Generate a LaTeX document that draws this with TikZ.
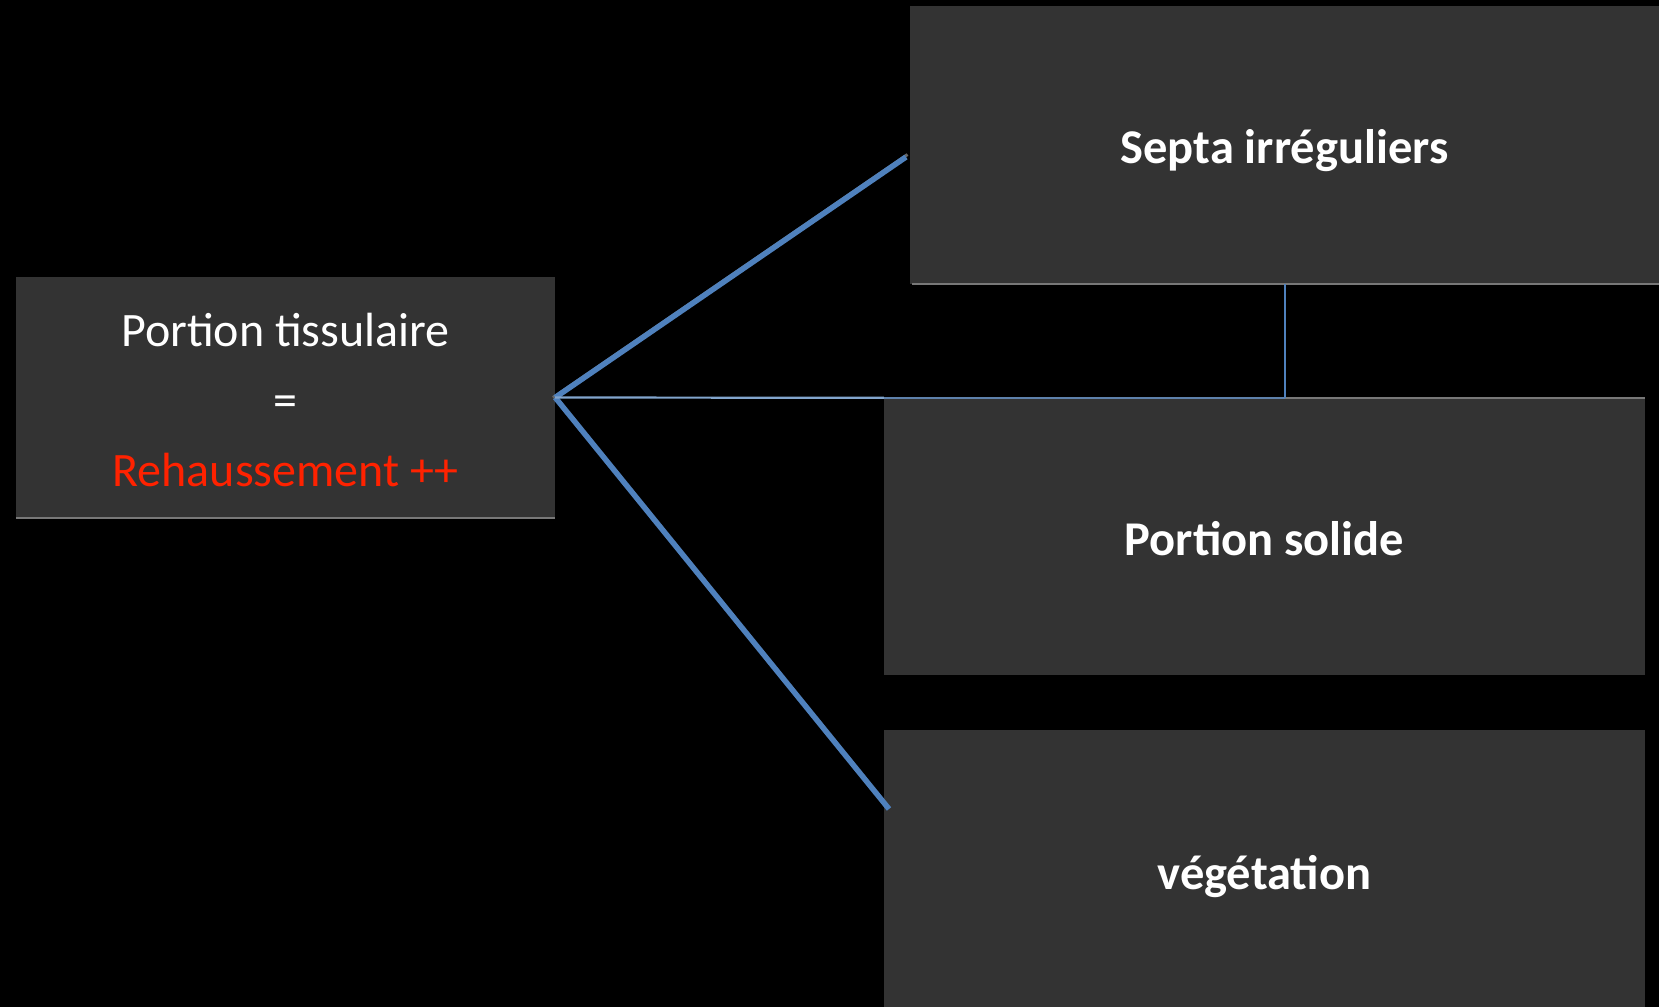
\documentclass[tikz,border=0pt]{standalone}
\usepackage{fontspec}
\setmainfont{Carlito}
\definecolor{boxfill}{RGB}{51,51,51}
\definecolor{linkblue}{RGB}{79,129,189}
\definecolor{thinblue}{RGB}{130,165,205}
\definecolor{edgegray}{RGB}{120,120,120}
\definecolor{redtxt}{RGB}{255,34,0}
\newcommand{\lowerby}[2]{\raisebox{-#1}[\height][\depth]{#2}}
\tikzset{
  darkbox/.style={fill=boxfill, draw=none, inner sep=0pt, text=white, align=center},
  bigtext/.style={font=\fontsize{48}{70}\selectfont},
  boldtext/.style={font=\fontsize{48.5}{70}\selectfont\bfseries},
  thicklink/.style={draw=linkblue, line width=5.5pt},
  linkshadow/.style={draw=black!60!white, line width=3pt},
  thinlink/.style={draw=thinblue, line width=2.2pt},
  edge line/.style={draw=edgegray, line width=2pt}
}
\begin{document}
\begin{tikzpicture}[x=1pt,y=-1pt]
\fill[black] (0,0) rectangle (1659,1007);
\useasboundingbox (0,0) rectangle (1659,1007);

\node[darkbox, bigtext, minimum width=539pt, minimum height=241pt] (left) at (285.5,397.5)
  {\lowerby{3pt}{\parbox{500pt}{\centering Portion tissulaire\\=\\\textcolor{redtxt}{Rehaussement ++}}}};
\node[darkbox, boldtext, minimum width=749pt, minimum height=278pt] (top) at (1284.5,145) {\lowerby{6pt}{Septa irréguliers}};
\node[darkbox, boldtext, minimum width=761pt, minimum height=277pt] (mid) at (1264.5,536.5) {\lowerby{2pt}{Portion solide}};
\node[darkbox, boldtext, minimum width=761pt, minimum height=277pt] (bot) at (1264.5,868.5) {\lowerby{8pt}{végétation}};

% edge lines of the boxes
\draw[edge line] (left.south west) -- (left.south east);
\draw[edge line] ([xshift=2pt]top.south west) -- (top.south east);

\coordinate (tEnd) at (906,157);
\coordinate (bEnd) at (889,809);

% shadows
\draw[linkshadow] ([xshift=1.5pt,yshift=2.5pt]left.east) -- ([xshift=1.5pt,yshift=2.5pt]tEnd);
\draw[linkshadow] ([xshift=-2pt,yshift=2pt]left.east) -- ([xshift=-2pt,yshift=2pt]bEnd);

% connectors
\draw[thicklink] (left.east) -- (tEnd);
\draw[thicklink] (left.east) -- (bEnd);
\draw[thinlink] (left.east) -- (mid.north west);
\draw[draw=linkblue!70!gray, line width=2pt] (mid.north west) -- (top.south |- mid.north);
\draw[edge line] (top.south |- mid.north) -- (mid.north east);
\draw[draw=linkblue, line width=2pt] (top.south) -- (top.south |- mid.north);
\end{tikzpicture}
\end{document}
